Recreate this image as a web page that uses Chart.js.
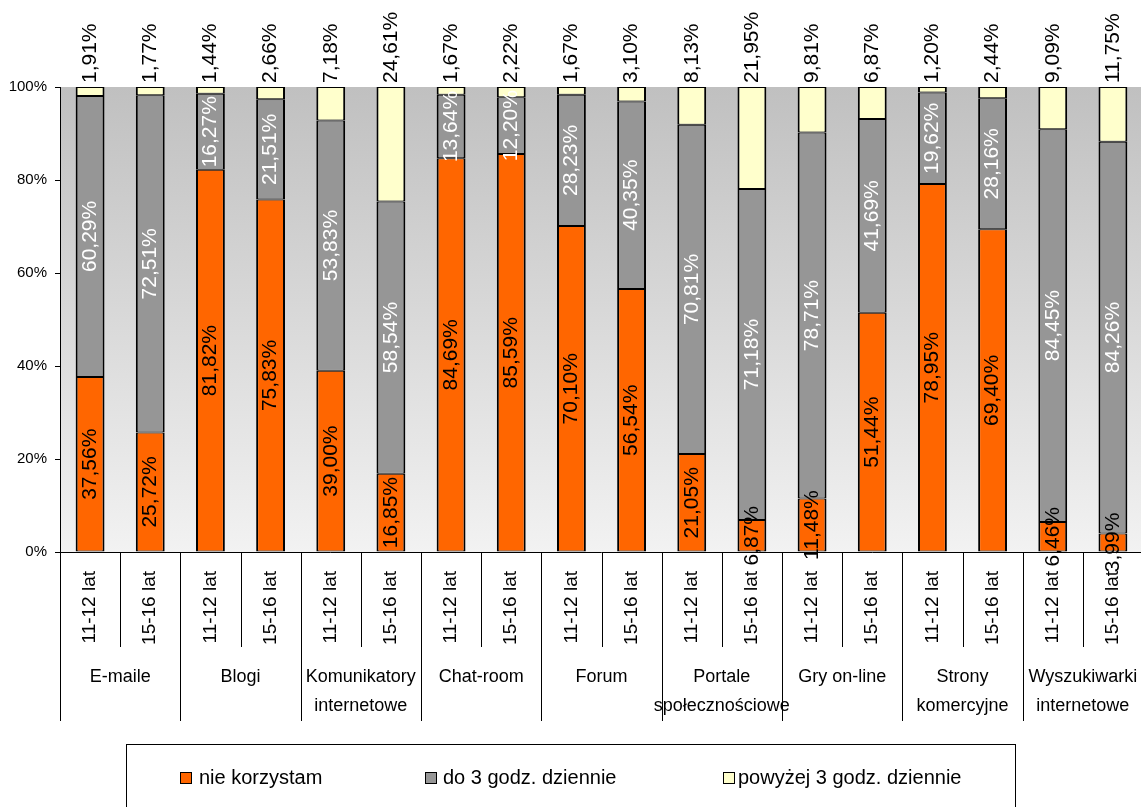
<!DOCTYPE html>
<html lang="pl">
<head>
<meta charset="utf-8">
<title>Korzystanie z usług internetowych</title>
<script src="https://cdn.jsdelivr.net/npm/chart.js@4.4.1/dist/chart.umd.min.js"></script>
<style>
  html, body { margin: 0; padding: 0; background: #fff; overflow: hidden; }
  #wrap { width: 1144px; height: 807px; }
</style>
</head>
<body>
<div id="wrap"><canvas id="chart" width="1144" height="807"></canvas></div>
<script>
// Groups (second tier of the category axis) and age bands (first tier)
const groups = [
  ["E-maile"],
  ["Blogi"],
  ["Komunikatory", "internetowe"],
  ["Chat-room"],
  ["Forum"],
  ["Portale", "społecznościowe"],
  ["Gry on-line"],
  ["Strony", "komercyjne"],
  ["Wyszukiwarki", "internetowe"]
];
const ageGroups = ["11-12 lat", "15-16 lat"];

const seriesNames = ["nie korzystam", "do 3 godz. dziennie", "powyżej 3 godz. dziennie"];
const seriesColors = ["#FF6600", "#969696", "#FFFFCC"];
const labelColors = ["#000000", "#FFFFFF", "#000000"];

const notUsing = [37.56, 25.72, 81.82, 75.83, 39.00, 16.85, 84.69, 85.59, 70.10, 56.54, 21.05, 6.87, 11.48, 51.44, 78.95, 69.40, 6.46, 3.99];
const upTo3h   = [60.29, 72.51, 16.27, 21.51, 53.83, 58.54, 13.64, 12.20, 28.23, 40.35, 70.81, 71.18, 78.71, 41.69, 19.62, 28.16, 84.45, 84.26];
const over3h   = [1.91, 1.77, 1.44, 2.66, 7.18, 24.61, 1.67, 2.22, 1.67, 3.10, 8.13, 21.95, 9.81, 6.87, 1.20, 2.44, 9.09, 11.75];

const yStep = 20;
const yMax = 100;

const FONT = "'Liberation Sans', Arial, Helvetica, sans-serif";
const categories = groups.flatMap(() => ageGroups);
const rawSeries = [notUsing, upTo3h, over3h];

// 100% stacked: each column is scaled to its own total
const totals = notUsing.map((v, i) => v + upTo3h[i] + over3h[i]);
const share = (arr) => arr.map((v, i) => v / totals[i] * 100);

function pct(v) {
  return v.toFixed(2).replace(".", ",") + "%";
}

const plotBackground = {
  id: "plotBackground",
  beforeDraw(chart) {
    const { ctx, chartArea: a } = chart;
    const g = ctx.createLinearGradient(0, a.top, 0, a.bottom);
    g.addColorStop(0, "#c0c0c0");
    g.addColorStop(1, "#f2f2f2");
    ctx.save();
    ctx.fillStyle = g;
    ctx.fillRect(a.left, a.top, a.right - a.left, a.bottom - a.top);
    ctx.restore();
  }
};

const barLabels = {
  id: "barLabels",
  afterDatasetsDraw(chart) {
    const { ctx } = chart;
    ctx.save();
    ctx.font = "21px " + FONT;
    ctx.textBaseline = "middle";
    chart.data.datasets.forEach((ds, di) => {
      const meta = chart.getDatasetMeta(di);
      meta.data.forEach((bar, i) => {
        const { x, y, base } = bar.getProps(["x", "y", "base"], true);
        ctx.save();
        ctx.fillStyle = labelColors[di];
        if (di === rawSeries.length - 1) {
          ctx.translate(x, y - 4);
          ctx.textAlign = "left";
        } else {
          ctx.translate(x, (y + base) / 2);
          ctx.textAlign = "center";
        }
        ctx.rotate(-Math.PI / 2);
        ctx.fillText(pct(rawSeries[di][i]), 0, 0);
        ctx.restore();
      });
    });
    ctx.restore();
  }
};

const categoryAxis = {
  id: "categoryAxis",
  afterDraw(chart) {
    const { ctx, chartArea: a, scales: { x } } = chart;
    const step = x.getPixelForValue(1) - x.getPixelForValue(0);
    const bottom = a.bottom;
    ctx.save();
    ctx.strokeStyle = "#000";
    ctx.lineWidth = 1;
    ctx.beginPath();
    ctx.moveTo(a.left, bottom + 0.5);
    ctx.lineTo(a.right, bottom + 0.5);
    ctx.stroke();

    for (let i = 0; i <= categories.length; i++) {
      const px = Math.round(x.getPixelForValue(i) - step / 2) + 0.5;
      const end = i % ageGroups.length === 0 ? bottom + 169 : bottom + 95;
      ctx.beginPath();
      ctx.moveTo(px, bottom);
      ctx.lineTo(px, end);
      ctx.stroke();
    }

    ctx.fillStyle = "#000";
    ctx.font = "19px " + FONT;
    ctx.textBaseline = "middle";
    ctx.textAlign = "right";
    categories.forEach((label, i) => {
      ctx.save();
      ctx.translate(x.getPixelForValue(i), bottom + 19);
      ctx.rotate(-Math.PI / 2);
      ctx.fillText(label, 0, 0);
      ctx.restore();
    });

    ctx.font = "18px " + FONT;
    ctx.textAlign = "center";
    groups.forEach((lines, g) => {
      const first = x.getPixelForValue(g * ageGroups.length);
      const last = x.getPixelForValue(g * ageGroups.length + ageGroups.length - 1);
      const cx = (first + last) / 2;
      lines.forEach((line, li) => {
        ctx.fillText(line, cx, bottom + 125 + li * 29);
      });
    });
    ctx.restore();
  }
};

const boxLegend = {
  id: "boxLegend",
  afterDraw(chart) {
    const { ctx } = chart;
    const boxX = [180, 425, 723];
    const textX = [199, 443, 738];
    ctx.save();
    ctx.strokeStyle = "#000";
    ctx.lineWidth = 1;
    ctx.strokeRect(126.5, 744.5, 889, 80);
    ctx.font = "20px " + FONT;
    ctx.textBaseline = "middle";
    ctx.textAlign = "left";
    chart.data.datasets.forEach((ds, i) => {
      ctx.fillStyle = ds.backgroundColor;
      ctx.fillRect(boxX[i], 772, 12, 12);
      ctx.strokeRect(boxX[i] + 0.5, 772.5, 11, 11);
      ctx.fillStyle = "#000";
      ctx.fillText(ds.label, textX[i], 778);
    });
    ctx.restore();
  }
};

new Chart(document.getElementById("chart"), {
  type: "bar",
  data: {
    labels: categories,
    datasets: rawSeries.map((values, i) => ({
      label: seriesNames[i],
      data: share(values),
      backgroundColor: seriesColors[i],
      borderColor: "#000",
      borderWidth: { top: 1, bottom: 1, left: 2, right: 2 },
      borderSkipped: false,
      barPercentage: 0.48,
      categoryPercentage: 1
    }))
  },
  options: {
    responsive: false,
    animation: false,
    layout: { padding: { top: 87, bottom: 255, left: 0, right: 1 } },
    plugins: {
      legend: { display: false },
      tooltip: { enabled: false }
    },
    scales: {
      x: { stacked: true, display: false },
      y: {
        stacked: true,
        min: 0,
        max: yMax,
        afterFit(scale) { scale.width = 60; },
        ticks: {
          stepSize: yStep,
          padding: 8,
          color: "#000",
          font: { size: 15, family: FONT },
          callback: (v) => v + "%"
        },
        grid: { drawOnChartArea: false, tickLength: 5, color: "#000" },
        border: { color: "#000", width: 1 }
      }
    }
  },
  plugins: [plotBackground, barLabels, categoryAxis, boxLegend]
});
</script>
</body>
</html>
